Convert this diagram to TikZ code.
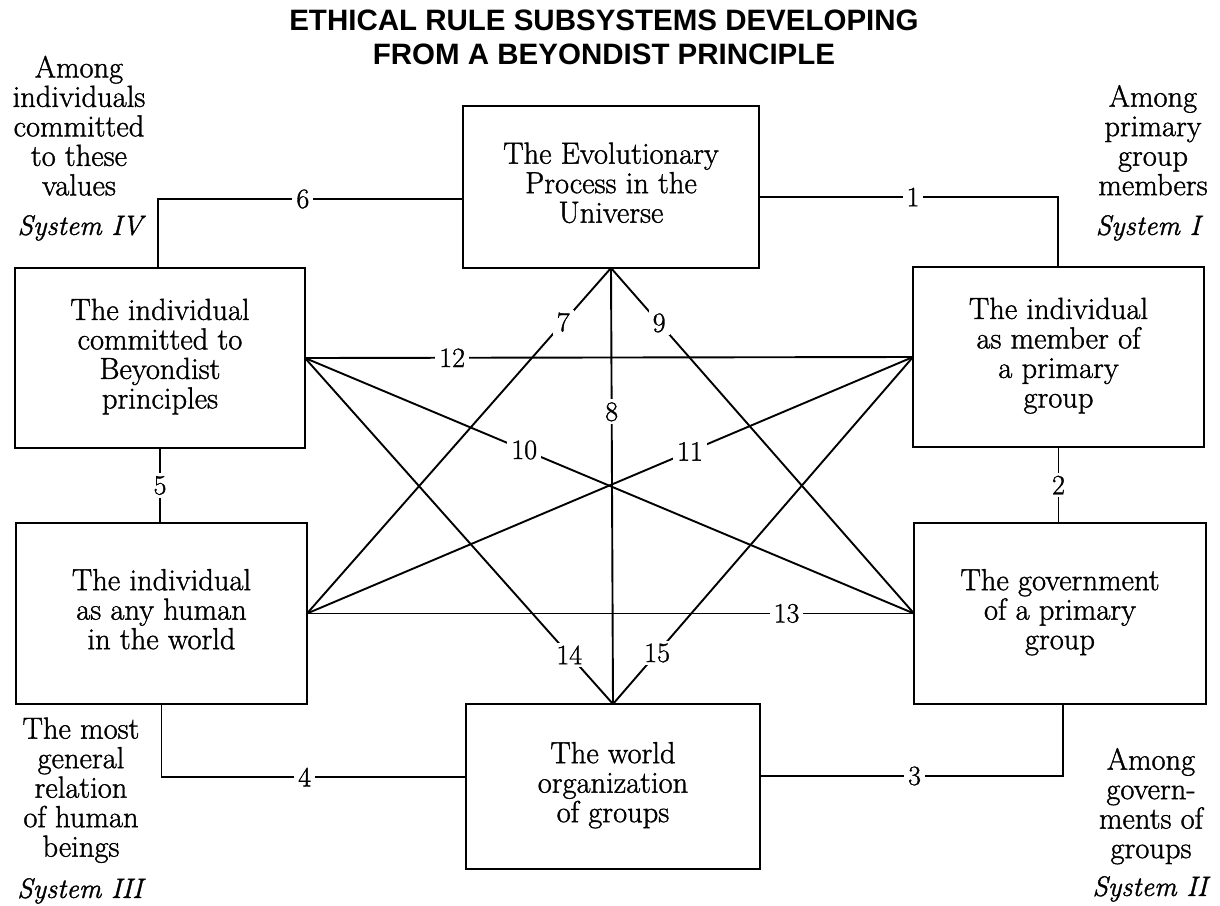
\documentclass[tikz,border=0pt]{standalone}
\usepackage{fontspec}
\newfontfamily\titlefont{Liberation Sans}
\newfontfamily\bodyrm{Latin Modern Roman}[FakeBold=1.2]
\newcommand\boxfont{\bodyrm\fontsize{30.5}{29.5}\selectfont}
\newcommand\sysfont{\bodyrm\fontsize{28}{29.5}\selectfont\itshape}
\newcommand\lblfont{\bodyrm\fontsize{28}{28}\selectfont}
\newcommand\ttlfont{\titlefont\bfseries\fontsize{29.5}{33.5}\selectfont}
\begin{document}
\begin{tikzpicture}[x=1pt,y=-1pt,
  every node/.style={outer sep=0pt},
  box/.style={draw, line width=1.9pt, rectangle, align=center, font=\boxfont,
    execute at begin node=\strut, execute at end node=\strut},
  conn/.style={line width=1.9pt},
  lbl/.style={fill=white, inner xsep=4pt, inner ysep=3pt, font=\lblfont},
  side/.style={align=center, font=\boxfont, inner sep=0pt,
    execute at begin node=\strut, execute at end node=\strut},
  sysname/.style={font=\sysfont, inner sep=0pt, execute at begin node=\strut},
]
\useasboundingbox (0,0) rectangle (1220,905);

% title
\node[align=center, font=\ttlfont, execute at begin node=\strut, execute at end node=\strut] (title) at (604,42)
  {ETHICAL RULE SUBSYSTEMS DEVELOPING\\FROM A BEYONDIST PRINCIPLE};

% boxes
\node[box, minimum width=296pt, minimum height=162pt] (T)  at (611,187)   {The Evolutionary\\Process in the\\Universe};
\node[box, minimum width=290pt, minimum height=180pt] (UL) at (160,358)   {The individual\\committed to\\Beyondist\\principles};
\node[box, minimum width=291pt, minimum height=180pt] (UR) at (1058.5,357){The individual\\as member of\\a primary\\group};
\node[box, minimum width=291pt, minimum height=181pt] (LL) at (161.5,613.5){The individual\\as any human\\in the world};
\node[box, minimum width=292pt, minimum height=181pt] (LR) at (1060,613.5){The government\\of a primary\\group};
\node[box, minimum width=294pt, minimum height=165pt] (B)  at (613,786.5) {The world\\organization\\of groups};

% side texts
\node[side] (tl) at (79,130) {Among\\individuals\\committed\\to these\\values};
\node[sysname] (s4) at (80,229) {System IV};
\node[side] (tr) at (1153,144.5) {Among\\primary\\group\\members};
\node[sysname] (s1) at (1148,229) {System I};
\node[side] (bl) at (81,791.5) {The most\\general\\relation\\of human\\beings};
\node[sysname] (s3) at (80,892) {System III};
\node[side] (br) at (1151,807.5) {Among\\govern-\\ments of\\groups};
\node[sysname] (s2) at (1150,890) {System II};

% corner coordinates of the outer connectors
\coordinate (c6) at (158,199);
\coordinate (c1) at (1058,197);
\coordinate (c4) at (161,777);
\coordinate (c3) at (1063,776);

% outer connectors
\draw[conn] (T.west |- c6) -- node[lbl,pos=0.525]{6} (c6) -- (c6 |- UL.north);
\draw[conn] (T.east |- c1) -- node[lbl,pos=0.515]{1} (c1) -- (c1 |- UR.north);
\draw[conn] (UL.south) -- node[lbl]{5} (UL.south |- LL.north);
\draw[conn] (UR.south) -- node[lbl]{2} (UR.south |- LR.north);
\draw[conn] (LL.south) -- (LL.south |- c4) -- node[lbl,pos=0.47]{4} (B.west |- c4);
\draw[conn] (B.east |- c3) -- node[lbl,pos=0.51]{3} (c3) -- (c3 |- LR.south);

% star connectors
\draw[conn] (T.south) -- node[lbl,pos=0.157]{7} (LL.east);
\draw[conn] (T.south) -- node[lbl,pos=0.33]{8} (B.north);
\draw[conn] (T.south) -- node[lbl,pos=0.159]{9} (LR.west);
\draw[conn] (UL.east) -- node[lbl,pos=0.36]{10} (LR.west);
\draw[conn] (UR.west) -- node[lbl,pos=0.368]{11} (LL.east);
\draw[conn] (UL.east) -- node[lbl,pos=0.242]{12} (UR.west);
\draw[conn] (LL.east) -- node[lbl,pos=0.79]{13} (LR.west);
\draw[conn] (UL.east) -- node[lbl,pos=0.858]{14} (B.north);
\draw[conn] (UR.west) -- node[lbl,pos=0.853]{15} (B.north);
\end{tikzpicture}
\end{document}
